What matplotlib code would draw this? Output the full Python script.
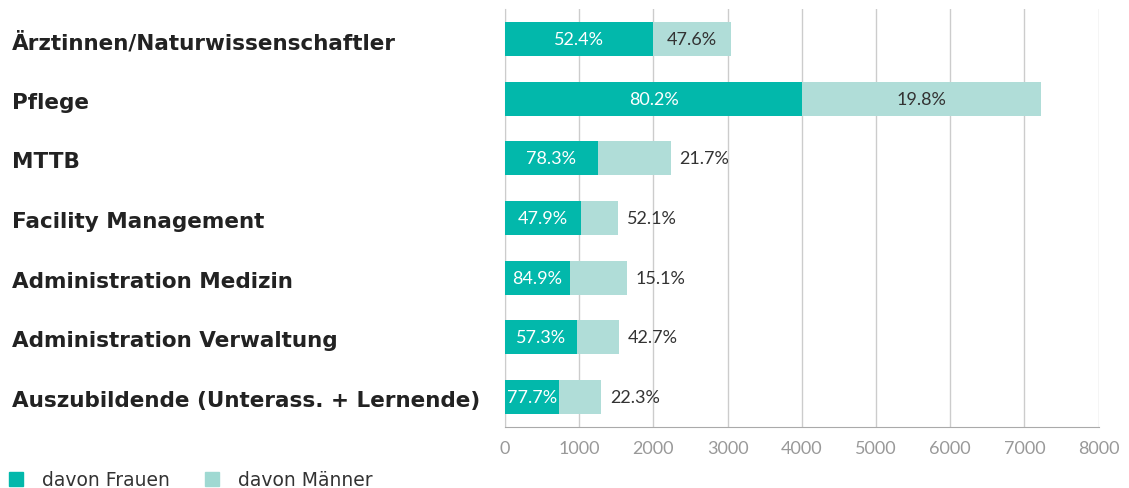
import matplotlib.pyplot as plt
from matplotlib.patches import Patch
from matplotlib.transforms import blended_transform_factory

categories = [
    "Ärztinnen/Naturwissenschaftler",
    "Pflege",
    "MTTB",
    "Facility Management",
    "Administration Medizin",
    "Administration Verwaltung",
    "Auszubildende (Unterass. + Lernende)",
]
frauen = [1995, 4003, 1253, 1024, 876, 970, 728]
maenner = [1051, 3217, 980, 499, 768, 566, 566]
frauen_pct = ["52.4%", "80.2%", "78.3%", "47.9%", "84.9%", "57.3%", "77.7%"]
maenner_pct = ["47.6%", "19.8%", "21.7%", "52.1%", "15.1%", "42.7%", "22.3%"]
xticks = [0, 1000, 2000, 3000, 4000, 5000, 6000, 7000, 8000]

TEAL = "#02b8ab"
LIGHT = "#b0ddd8"

plt.rcParams["font.family"] = ["Lato", "DejaVu Sans"]

fig = plt.figure(figsize=(11.29, 4.89), dpi=100)
ax = fig.add_axes([0.4473, 0.1247, 0.9731 - 0.4473, 0.9796 - 0.1247])

y = list(range(len(categories)))
ax.barh(y, frauen, height=0.57, color=TEAL, zorder=3)
ax.barh(y, maenner, left=frauen, height=0.57, color=LIGHT, zorder=3)

for i in y:
    ax.text(frauen[i] / 2, i, frauen_pct[i], ha="center", va="center",
            color="white", fontsize=13, zorder=4)
    if maenner[i] > 1000:
        ax.text(frauen[i] + maenner[i] / 2, i, maenner_pct[i], ha="center",
                va="center", color="#333333", fontsize=13, zorder=4)
    else:
        ax.text(frauen[i] + maenner[i] + 120, i, maenner_pct[i], ha="left",
                va="center", color="#333333", fontsize=13, zorder=4)

ax.set_ylim(len(categories) - 0.5, -0.5)
ax.set_xlim(0, 8000)
ax.set_xticks(xticks)
ax.set_xticklabels([str(t) for t in xticks], color="#999999", fontsize=13)
ax.tick_params(axis="x", length=0, pad=9)
ax.set_yticks([])
ax.grid(axis="x", color="#cccccc", linewidth=1, zorder=0)
for s in ["top", "right"]:
    ax.spines[s].set_visible(False)
ax.spines["left"].set_color("#cccccc")
ax.spines["bottom"].set_color("#aaaaaa")

trans = blended_transform_factory(fig.transFigure, ax.transData)
for i, c in enumerate(categories):
    ax.text(12 / 1129, i + 0.05, c, transform=trans, ha="left", va="center",
            fontsize=15.5, fontweight="bold", color="#222222",
            family="DejaVu Sans")

handles = [Patch(color=TEAL, label="davon Frauen"),
           Patch(color="#9fd9d2", label="davon Männer")]
fig.legend(handles=handles, loc="lower left", bbox_to_anchor=(-0.007, -0.037),
           ncol=2, frameon=False, handlelength=0.75,
           handleheight=0.75, handletextpad=1.0, columnspacing=1.9,
           labelcolor="#333333", prop={"family": "DejaVu Sans", "size": 13.5})

fig.savefig("out.png", dpi=100)
